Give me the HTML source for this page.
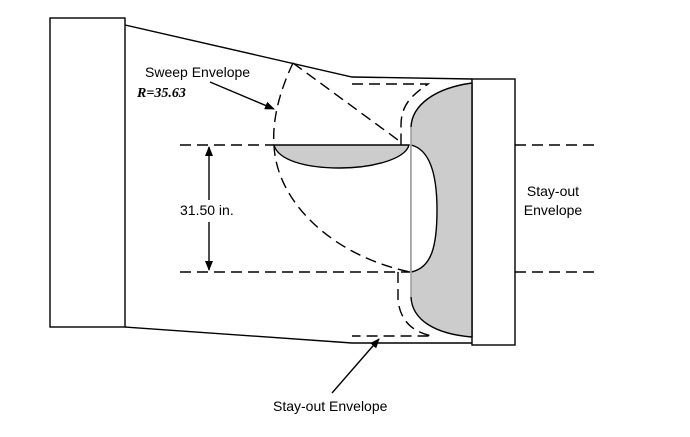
<!DOCTYPE html>
<html><head><style>
body{margin:0;background:#fff}
svg{display:block}
text{font-family:"Liberation Sans",sans-serif;font-size:14px;fill:#000}
</style></head><body>
<svg width="690" height="437" viewBox="0 0 690 437">
<defs><marker id="a" markerWidth="10" markerHeight="8" refX="9" refY="4" orient="auto" markerUnits="userSpaceOnUse"><path d="M0,0 L10,4 L0,8z" fill="#000"/></marker></defs>
<g stroke="#000" stroke-width="1.4" fill="none">
<rect x="50" y="18" width="75" height="309" fill="#fff"/>
<rect x="472" y="79" width="43" height="266" fill="#fff"/>
<path d="M125,25 L352,77 L472,79"/>
<path d="M125,327 L352,343 L472,343"/>
<path d="M472,83 C435,88 412,105 411,127 L411,297 C412,320 435,334 472,337 Z" fill="#ccc"/>
<path d="M411,145 C432,150 437,180 437,210 C437,245 432,268 411,272 Z" fill="#fff"/>
<path d="M274,145 L409,145 C405,160 370,168 340,168 C305,168 278,160 274,145 Z" fill="#ccc"/>
</g>
<line x1="411" y1="127" x2="411" y2="297" stroke="#bbb" stroke-width="1.5"/>
<g stroke="#000" stroke-width="1.4" fill="none" stroke-dasharray="11,6">
<path d="M293,63 C280,90 272,120 274,145 C276,200 330,255 410,272"/>
<path d="M293,63 L398,140 L398,145"/>
<path d="M352,84 L428,84 C412,95 401,105 401,125 L401,145"/>
<path d="M398,272 L398,300 C400,320 412,332 432,336 L352,336"/>
<path d="M180,145 L274,145 M515,145 L595,145"/>
<path d="M180,272 L410,272 M515,272 L595,272"/>
</g>
<line x1="209" y1="200" x2="209" y2="147" stroke="#000" stroke-width="1.4" marker-end="url(#a)"/>
<line x1="209" y1="222" x2="209" y2="270" stroke="#000" stroke-width="1.4" marker-end="url(#a)"/>
<line x1="210" y1="82" x2="274" y2="109" stroke="#000" stroke-width="1.4" marker-end="url(#a)"/>
<line x1="332" y1="393" x2="379" y2="339" stroke="#000" stroke-width="1.4" marker-end="url(#a)"/>
<text x="145" y="77">Sweep Envelope</text>
<text x="137" y="97" style="font-family:'Liberation Serif',serif;font-weight:bold;font-style:italic;font-size:14px">R=35.63</text>
<text x="180" y="215">31.50 in.</text>
<text x="553" y="196" text-anchor="middle">Stay-out</text>
<text x="553" y="215" text-anchor="middle">Envelope</text>
<text x="273" y="411">Stay-out Envelope</text>
</svg>
</body></html>
